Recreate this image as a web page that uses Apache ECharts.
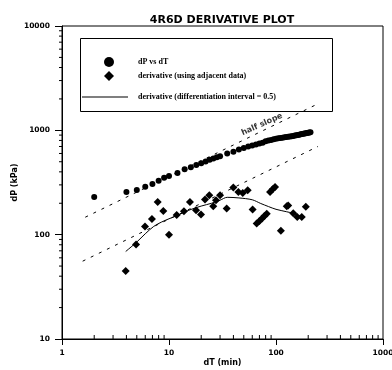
<!DOCTYPE html>
<html><head><meta charset="utf-8">
<script src="https://cdn.jsdelivr.net/npm/echarts@6/dist/echarts.min.js"></script>
<style>html,body{margin:0;padding:0;background:#fff}#c{width:392px;height:370px}</style>
</head><body><div id="c"></div>
<script>
// dP vs dT (circles)
const dT = [2, 4, 5, 6, 7, 8, 9, 10, 12, 14, 16, 18, 20, 22, 24, 26, 28, 30,
  35, 40, 45, 50, 55, 60, 65, 70, 75, 80, 85, 90, 95, 100, 105, 110, 115, 120,
  125, 130, 135, 140, 145, 150, 155, 160, 165, 170, 175, 180, 185, 190, 195, 200, 205, 210];
const dP = [230, 257, 268, 288, 306, 328, 352, 366, 389, 424, 443, 466, 484, 503, 522, 537, 551, 564,
  600, 622, 655, 678, 698, 715, 731, 746, 762, 785, 797, 808, 820, 831, 838, 846, 851, 857,
  863, 868, 873, 879, 884, 890, 895, 902, 908, 915, 920, 926, 931, 937, 943, 948, 953, 958];
// derivative using adjacent data (diamonds)
const adjT = [3.94, 4.92, 5.97, 6.93, 7.84, 8.85, 10.0, 11.8, 13.8, 15.7, 17.9, 19.9, 21.7, 23.8, 25.9, 27.5,
  30.0, 34.6, 39.9, 44.5, 48.9, 54.4, 60.5, 66, 70, 74, 78, 82, 88, 93, 98, 111, 126, 130, 145, 158, 174, 190];
const adjD = [44.8, 80.6, 120, 141, 206, 169, 100, 154, 168, 206, 171, 156, 217, 239, 187, 214,
  239, 178, 283, 257, 251, 267, 174, 128, 135, 143, 151, 159, 257, 272, 286, 109, 187, 190, 160, 148, 148, 185];
// derivative, differentiation interval = 0.5 (solid line)
const intT = [3.94, 5.0, 6.0, 7.2, 8.5, 10, 12, 15, 20, 25, 30, 35, 45, 60, 72, 85, 100, 125, 145, 178];
const intD = [69, 85, 102, 120, 132, 142, 153, 170, 188, 200, 214, 228, 225, 216, 199, 186, 175, 166, 160, 146];
// half-slope guide lines (end points)
const upperT = [1.65, 240];
const upperP = [147, 1772];
const lowerT = [1.56, 247];
const lowerP = [55.7, 701];
const slopeLabelAt = [74, 1140];
// minor tick values
const minorX = [2,3,4,5,6,7,8,9,20,30,40,50,60,70,80,90,200,300,400,500,600,700,800,900];
const minorY = [20,30,40,50,60,70,80,90,200,300,400,500,600,700,800,900,2000,3000,4000,5000,6000,7000,8000,9000];

const S1 = 'dP vs dT';
const S2 = 'derivative (using adjacent data)';
const S3 = 'derivative (differentiation interval = 0.5)';

const zip = (a, b) => a.map((v, i) => [v, b[i]]);
const minorData = minorX.map(v => [v, 10, 0]).concat(minorY.map(v => [1, v, 1]));

const sans = 'DejaVu Sans';
const serif = 'Liberation Serif';
const legendText = {fontFamily: serif, fontWeight: 'bold', fontSize: 8, color: '#000'};

const chart = echarts.init(document.getElementById('c'), null, {renderer: 'canvas'});
chart.setOption({
  animation: false,
  backgroundColor: '#fff',
  title: {
    text: '4R6D DERIVATIVE PLOT', left: 217, top: 10, textAlign: 'center',
    textStyle: {fontFamily: sans, fontWeight: 'bold', fontSize: 11, color: '#000'}
  },
  grid: {left: 62, right: 9, top: 26, bottom: 31, outerBoundsMode: 'none', containLabel: false,
    show: true, borderColor: '#000', borderWidth: 1, backgroundColor: 'transparent'},
  xAxis: {
    type: 'log', logBase: 10, min: 1, max: 1000,
    name: 'dT (min)', nameLocation: 'middle', nameGap: 20, nameMoveOverlap: false,
    nameTextStyle: {fontFamily: sans, fontWeight: 'bold', fontSize: 8, color: '#000'},
    axisLine: {lineStyle: {color: '#000', width: 1}},
    axisTick: {length: 6, lineStyle: {color: '#000'}},
    axisLabel: {margin: 10, fontFamily: sans, fontWeight: 'bold', fontSize: 7.5, color: '#000',
      formatter: v => String(Math.round(v))},
    splitLine: {show: false}
  },
  yAxis: {
    type: 'log', logBase: 10, min: 10, max: 10000,
    name: 'dP (kPa)', nameLocation: 'middle', nameGap: 43, nameRotate: 90, nameMoveOverlap: false,
    nameTextStyle: {fontFamily: sans, fontWeight: 'bold', fontSize: 8, color: '#000'},
    axisLine: {lineStyle: {color: '#000', width: 1}},
    axisTick: {length: 7, lineStyle: {color: '#000'}},
    axisLabel: {margin: 12, fontFamily: sans, fontWeight: 'bold', fontSize: 7.5, color: '#000',
      formatter: v => String(Math.round(v))},
    splitLine: {show: false}
  },
  legend: [
    {left: 104, top: 57, padding: 0, itemWidth: 10, itemHeight: 10, selectedMode: false,
      data: [{name: S1, icon: 'circle', itemStyle: {color: '#000', opacity: 1}}],
      textStyle: Object.assign({padding: [0, 0, 0, 19]}, legendText)},
    {left: 104, top: 71, padding: 0, itemWidth: 10, itemHeight: 10, selectedMode: false,
      data: [{name: S2, icon: 'path://M5,0L10,5L5,10L0,5Z', itemStyle: {color: '#000', opacity: 1}}],
      textStyle: Object.assign({padding: [0, 0, 0, 19]}, legendText)},
    {left: 82, top: 93, padding: 0, itemWidth: 46, itemHeight: 10, selectedMode: false,
      data: [{name: S3, icon: 'path://M0,0L46,0L46,1L0,1Z', itemStyle: {color: '#000', opacity: 1}}],
      textStyle: Object.assign({padding: [0, 0, 0, 5]}, legendText)}
  ],
  graphic: [
    {type: 'rect', z: 100, shape: {x: 80.5, y: 38.5, width: 252, height: 73},
      style: {fill: 'none', stroke: '#000', lineWidth: 1}}
  ],
  series: [
    {name: 'upper half slope', type: 'line', data: zip(upperT, upperP), symbol: 'none', silent: true,
      lineStyle: {color: '#000', width: 1, type: [3, 6]}},
    {name: 'lower half slope', type: 'line', data: zip(lowerT, lowerP), symbol: 'none', silent: true,
      lineStyle: {color: '#000', width: 1, type: [3, 6]}},
    {name: 'half slope label', type: 'scatter', data: [slopeLabelAt], symbolSize: 1, silent: true,
      itemStyle: {color: 'transparent'},
      label: {show: true, position: 'inside', formatter: 'half slope', rotate: 24,
        fontFamily: sans, fontWeight: 'bold', fontSize: 8, color: '#000'}},
    {name: S1, type: 'scatter', data: zip(dT, dP), symbol: 'circle', symbolSize: 6,
      itemStyle: {color: '#000', opacity: 1}},
    {name: S2, type: 'scatter', data: zip(adjT, adjD), symbol: 'diamond', symbolSize: 8,
      itemStyle: {color: '#000', opacity: 1}},
    {name: S3, type: 'line', data: zip(intT, intD), symbol: 'none', smooth: 0.3,
      lineStyle: {color: '#000', width: 1}, itemStyle: {color: '#000'}},
    {name: 'minor ticks', type: 'custom', data: minorData, clip: false, silent: true, z: 5,
      renderItem: function (params, api) {
        const p = api.coord([api.value(0), api.value(1)]);
        const isX = api.value(2) === 0;
        return {
          type: 'line',
          shape: isX ? {x1: p[0], y1: p[1], x2: p[0], y2: p[1] - 4}
                     : {x1: p[0], y1: p[1], x2: p[0] - 3, y2: p[1]},
          style: {stroke: '#000', lineWidth: 1}
        };
      }}
  ]
});
</script>
</body></html>
